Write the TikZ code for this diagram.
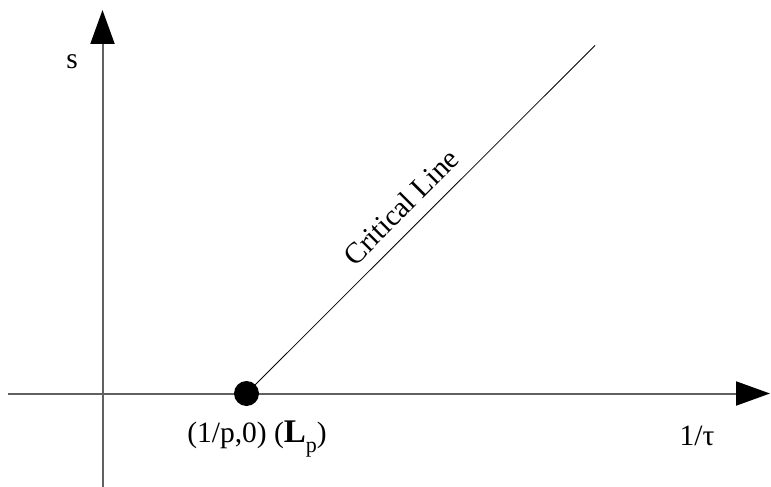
\documentclass[tikz,border=0pt]{standalone}
\usepackage{fontspec}
\setmainfont{Liberation Serif}
\usetikzlibrary{arrows.meta}
\begin{document}
\begin{tikzpicture}[x=1pt,y=-1pt,
  axis/.style={draw=black!62,line width=2pt,-{Triangle[length=34pt,width=24pt,fill=black,color=black]}},
  lbl/.style={font=\fontsize{29.5}{33}\selectfont,inner sep=0pt}]
\useasboundingbox (0,0) rectangle (771,487);
\coordinate (vb) at (102.5,487);
\coordinate (vt) at (102.5,10);
\coordinate (hl) at (8,393.5);
\coordinate (hr) at (770,393.5);
\coordinate (ce) at (595,45.5);
\draw[axis] (vb) -- (vt);
\draw[axis] (hl) -- (hr);
\node[circle,fill=black,minimum size=25pt,inner sep=0pt] (dot) at (246.5,393.5) {};
\draw[line width=0.8pt] (dot.center) -- (ce);
\node[lbl] (s) at (72,62) {s};
\node[lbl] (tau) at (697,436) {1/τ};
\node[lbl,anchor=base] (lp) at (257,442) {(1/p,0) ({\fontsize{33}{34}\selectfont\bfseries L}\raisebox{-10pt}{\fontsize{22}{23}\selectfont p})};
\node[lbl,rotate=45] (cl) at (401,207) {Critical Line};
\end{tikzpicture}
\end{document}
